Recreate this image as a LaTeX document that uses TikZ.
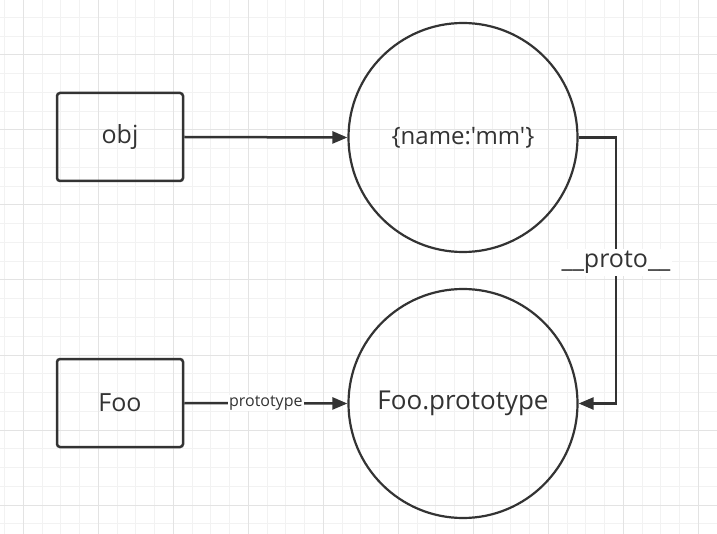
\documentclass[tikz,border=0pt]{standalone}
\usepackage{fontspec}
\newfontfamily\uifont{Open Sans}
\usetikzlibrary{arrows.meta}
\definecolor{ink}{HTML}{333333}
\definecolor{gridminor}{HTML}{F2F2F2}
\definecolor{gridmajor}{HTML}{E3E3E3}
\tikzset{
  box/.style={draw=ink, line width=2.5pt, rounded corners=3pt, minimum width=126pt, minimum height=88pt, inner sep=0pt, font=\uifont\fontsize{25}{29}\selectfont, text=ink},
  blob/.style={draw=ink, line width=2.2pt, circle, minimum size=229pt, inner sep=0pt, font=\uifont\fontsize{26}{30}\selectfont, text=ink},
  conn/.style={draw=ink, line width=2.5pt, -{Triangle[length=15pt,width=12pt]}},
  smalllbl/.style={fill=white, inner sep=1pt, font=\uifont\fontsize{16}{18}\selectfont, text=ink},
  biglbl/.style={fill=white, inner sep=2pt, font=\uifont\fontsize{25}{29}\selectfont, text=ink},
}
\begin{document}
\begin{tikzpicture}[x=1pt,y=-1pt]
\useasboundingbox (0,0) rectangle (717,534);
\fill[white] (0,0) rectangle (717,534);
% grid
\foreach \i in {0,...,38}{
  \draw[gridminor, line width=1pt] ({4.58+18.75*\i},0) -- ({4.58+18.75*\i},534);
}
\foreach \i in {0,...,28}{
  \draw[gridminor, line width=1pt] (0,{-1.25+18.75*\i}) -- (717,{-1.25+18.75*\i});
}
\foreach \i in {0,...,9}{
  \draw[gridmajor, line width=1pt] ({23.33+75*\i},0) -- ({23.33+75*\i},534);
}
\foreach \i in {0,...,7}{
  \draw[gridmajor, line width=1pt] (0,{-20+75*\i}) -- (717,{-20+75*\i});
}
% nodes
\node[box] (obj) at (120,137) {obj};
\node[box] (foo) at (120,403) {Foo};
\node[blob] (c1) at (463,137.5) {\fontsize{24}{28}\selectfont\{name:'mm'\}};
\node[blob] (c2) at (463,403.5) {Foo.prototype};
\coordinate (k1) at (616,137.5);
\coordinate (k2) at (616,403.5);
% connectors
\draw[conn] (obj.east) -- (c1.west);
\draw[conn] (foo.east) -- node[smalllbl] {prototype} (c2.west);
\draw[conn] (c1.east) -- (k1) -- node[biglbl, yshift=8pt] {\_\_proto\_\_} (k2) -- (c2.east);
\end{tikzpicture}
\end{document}
